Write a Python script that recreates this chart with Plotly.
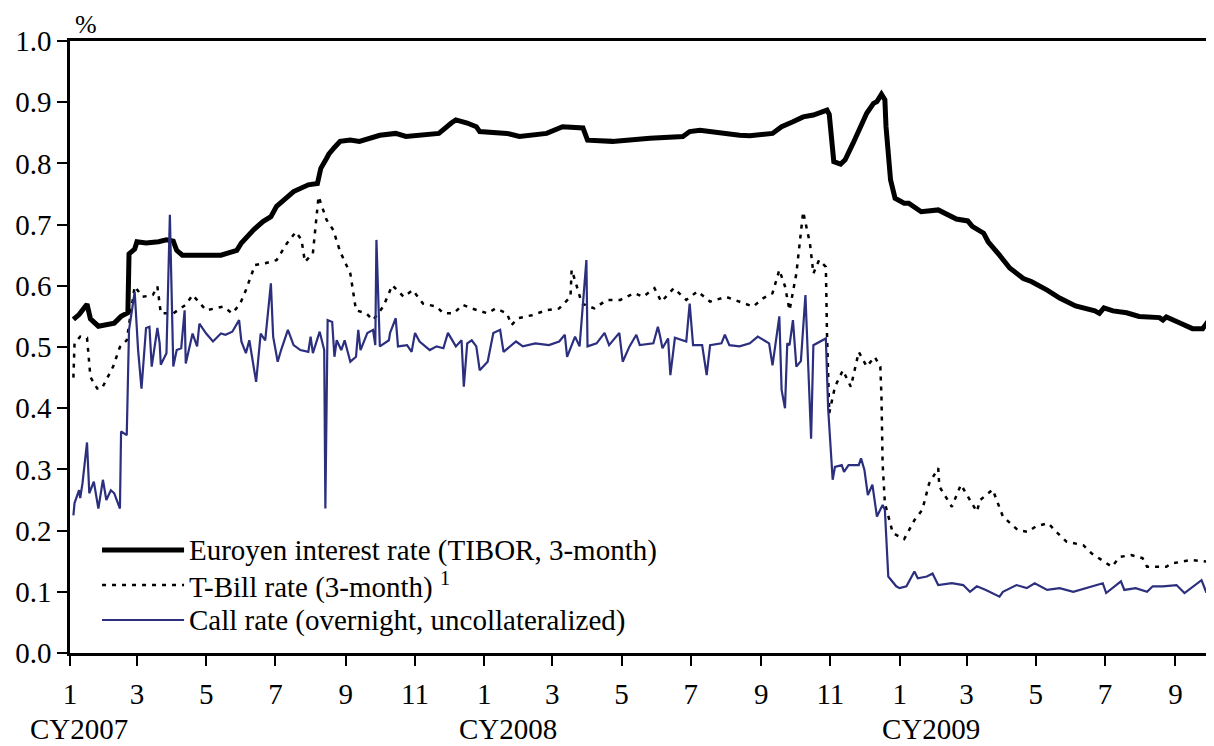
import plotly.graph_objects as go

# ---------------- data ----------------
tibor_dates = [
    "2007-01-04", "2007-01-09", "2007-01-16", "2007-01-19", "2007-01-26", "2007-02-09", "2007-02-15",
    "2007-02-21", "2007-02-22", "2007-02-27", "2007-03-01", "2007-03-09", "2007-03-20", "2007-03-27",
    "2007-04-02", "2007-04-05", "2007-04-10", "2007-05-14", "2007-05-28", "2007-06-01", "2007-06-12",
    "2007-06-20", "2007-06-27", "2007-07-02", "2007-07-17", "2007-07-30", "2007-08-07", "2007-08-10",
    "2007-08-15", "2007-08-17", "2007-08-22", "2007-08-27", "2007-09-05", "2007-09-13", "2007-10-01",
    "2007-10-15", "2007-10-24", "2007-11-22", "2007-12-03", "2007-12-07", "2007-12-17", "2007-12-25",
    "2007-12-28", "2008-01-21", "2008-02-01", "2008-02-12", "2008-02-25", "2008-03-10", "2008-03-24",
    "2008-03-28", "2008-04-01", "2008-04-23", "2008-05-26", "2008-06-24", "2008-06-30", "2008-07-09",
    "2008-08-13", "2008-08-22", "2008-09-11", "2008-09-19", "2008-09-29", "2008-10-08", "2008-10-17",
    "2008-10-29", "2008-10-31", "2008-11-04", "2008-11-10", "2008-11-14", "2008-11-21", "2008-11-25",
    "2008-12-03", "2008-12-09", "2008-12-12", "2008-12-16", "2008-12-19", "2008-12-20", "2008-12-24",
    "2008-12-28", "2009-01-05", "2009-01-09", "2009-01-20", "2009-02-04", "2009-02-11", "2009-02-20",
    "2009-03-02", "2009-03-06", "2009-03-16", "2009-03-20", "2009-03-30", "2009-04-08", "2009-04-20",
    "2009-04-27", "2009-05-11", "2009-05-22", "2009-06-05", "2009-06-22", "2009-06-26", "2009-06-30",
    "2009-07-08", "2009-07-20", "2009-07-31", "2009-08-18", "2009-08-21", "2009-08-24", "2009-09-04",
    "2009-09-16", "2009-09-25", "2009-09-29", "2009-10-06",
]
tibor_values = [
    0.545, 0.553, 0.570, 0.546, 0.534, 0.539, 0.550,
    0.556, 0.652, 0.660, 0.672, 0.670, 0.672, 0.675,
    0.673, 0.658, 0.650, 0.650, 0.658, 0.670, 0.692,
    0.705, 0.713, 0.730, 0.754, 0.765, 0.767, 0.792,
    0.808, 0.815, 0.826, 0.836, 0.838, 0.836, 0.846,
    0.849, 0.844, 0.849, 0.866, 0.871, 0.866, 0.860,
    0.852, 0.849, 0.844, 0.846, 0.849, 0.860, 0.860,
    0.858, 0.838, 0.836, 0.841, 0.844, 0.852, 0.854,
    0.846, 0.845, 0.849, 0.860, 0.868, 0.876, 0.879,
    0.887, 0.880, 0.803, 0.799, 0.806, 0.833, 0.849,
    0.882, 0.898, 0.901, 0.913, 0.904, 0.860, 0.773,
    0.743, 0.735, 0.735, 0.721, 0.724, 0.717, 0.709,
    0.706, 0.697, 0.686, 0.672, 0.650, 0.629, 0.612,
    0.607, 0.593, 0.580, 0.567, 0.559, 0.555, 0.564,
    0.559, 0.556, 0.550, 0.548, 0.544, 0.549, 0.540,
    0.530, 0.530, 0.540, 0.536,
]

tbill_dates = [
    "2007-01-04", "2007-01-05", "2007-01-10", "2007-01-16", "2007-01-19", "2007-01-25", "2007-01-29",
    "2007-02-08", "2007-02-14", "2007-02-20", "2007-02-27", "2007-03-06", "2007-03-15", "2007-03-19",
    "2007-03-22", "2007-04-02", "2007-04-13", "2007-04-19", "2007-05-01", "2007-05-16", "2007-05-24",
    "2007-05-31", "2007-06-05", "2007-06-13", "2007-06-22", "2007-07-02", "2007-07-11", "2007-07-19",
    "2007-07-24", "2007-07-27", "2007-08-03", "2007-08-08", "2007-08-15", "2007-08-21", "2007-08-27",
    "2007-09-05", "2007-09-10", "2007-09-19", "2007-09-25", "2007-10-04", "2007-10-12", "2007-10-22",
    "2007-10-30", "2007-11-08", "2007-11-20", "2007-11-26", "2007-12-05", "2007-12-13", "2007-12-21",
    "2008-01-04", "2008-01-11", "2008-01-21", "2008-01-25", "2008-01-31", "2008-02-12", "2008-02-25",
    "2008-03-07", "2008-03-17", "2008-03-18", "2008-03-21", "2008-03-27", "2008-04-07", "2008-04-18",
    "2008-04-30", "2008-05-12", "2008-05-20", "2008-05-30", "2008-06-05", "2008-06-16", "2008-06-27",
    "2008-07-07", "2008-07-18", "2008-08-01", "2008-08-13", "2008-08-25", "2008-09-03", "2008-09-11",
    "2008-09-17", "2008-09-22", "2008-09-26", "2008-10-02", "2008-10-08", "2008-10-14", "2008-10-17",
    "2008-10-22", "2008-10-28", "2008-10-29", "2008-10-31", "2008-11-05", "2008-11-12", "2008-11-19",
    "2008-11-26", "2008-12-03", "2008-12-10", "2008-12-15", "2008-12-16", "2008-12-17", "2008-12-19",
    "2008-12-26", "2009-01-05", "2009-01-14", "2009-01-21", "2009-01-27", "2009-02-04", "2009-02-05",
    "2009-02-16", "2009-02-24", "2009-03-10", "2009-03-13", "2009-03-24", "2009-04-02", "2009-04-15",
    "2009-04-24", "2009-05-01", "2009-05-12", "2009-05-19", "2009-05-28", "2009-06-12", "2009-06-19",
    "2009-07-07", "2009-07-14", "2009-07-24", "2009-08-03", "2009-08-07", "2009-08-24", "2009-08-28",
    "2009-09-15", "2009-09-30", "2009-10-06",
]
tbill_values = [
    0.450, 0.506, 0.517, 0.515, 0.451, 0.432, 0.432,
    0.468, 0.500, 0.511, 0.599, 0.582, 0.585, 0.599,
    0.555, 0.555, 0.569, 0.585, 0.560, 0.566, 0.555,
    0.571, 0.593, 0.634, 0.637, 0.642, 0.669, 0.688,
    0.675, 0.639, 0.653, 0.746, 0.708, 0.691, 0.656,
    0.620, 0.560, 0.555, 0.544, 0.566, 0.601, 0.582,
    0.593, 0.571, 0.566, 0.555, 0.555, 0.569, 0.563,
    0.555, 0.563, 0.555, 0.536, 0.547, 0.552, 0.560,
    0.563, 0.582, 0.626, 0.609, 0.571, 0.563, 0.577,
    0.577, 0.588, 0.582, 0.596, 0.574, 0.596, 0.577,
    0.591, 0.574, 0.582, 0.574, 0.566, 0.580, 0.588,
    0.626, 0.599, 0.560, 0.620, 0.721, 0.669, 0.620,
    0.642, 0.631, 0.522, 0.392, 0.435, 0.462, 0.435,
    0.492, 0.468, 0.484, 0.468, 0.419, 0.310, 0.245,
    0.196, 0.186, 0.217, 0.234, 0.277, 0.302, 0.272,
    0.239, 0.275, 0.231, 0.250, 0.267, 0.223, 0.201,
    0.198, 0.207, 0.212, 0.198, 0.182, 0.176, 0.163,
    0.141, 0.157, 0.160, 0.155, 0.141, 0.141, 0.146,
    0.152, 0.149, 0.145,
]

call_dates = [
    "2007-01-04", "2007-01-05", "2007-01-09", "2007-01-10", "2007-01-12", "2007-01-16", "2007-01-18",
    "2007-01-22", "2007-01-26", "2007-01-30", "2007-02-02", "2007-02-06", "2007-02-09", "2007-02-14",
    "2007-02-15", "2007-02-20", "2007-02-22", "2007-02-27", "2007-03-02", "2007-03-05", "2007-03-09",
    "2007-03-12", "2007-03-14", "2007-03-19", "2007-03-21", "2007-03-22", "2007-03-27", "2007-03-30",
    "2007-04-02", "2007-04-05", "2007-04-09", "2007-04-12", "2007-04-13", "2007-04-17", "2007-04-19",
    "2007-04-23", "2007-04-25", "2007-05-01", "2007-05-07", "2007-05-14", "2007-05-18", "2007-05-24",
    "2007-05-30", "2007-06-01", "2007-06-05", "2007-06-08", "2007-06-14", "2007-06-18", "2007-06-22",
    "2007-06-27", "2007-06-29", "2007-07-03", "2007-07-06", "2007-07-12", "2007-07-17", "2007-07-23",
    "2007-07-30", "2007-08-01", "2007-08-03", "2007-08-09", "2007-08-13", "2007-08-14", "2007-08-16",
    "2007-08-20", "2007-08-22", "2007-08-24", "2007-08-28", "2007-08-31", "2007-09-05", "2007-09-10",
    "2007-09-12", "2007-09-14", "2007-09-20", "2007-09-25", "2007-09-27", "2007-09-28", "2007-10-01",
    "2007-10-09", "2007-10-10", "2007-10-15", "2007-10-17", "2007-10-25", "2007-10-29", "2007-11-01",
    "2007-11-05", "2007-11-14", "2007-11-20", "2007-11-26", "2007-11-30", "2007-12-07", "2007-12-12",
    "2007-12-14", "2007-12-17", "2007-12-21", "2007-12-25", "2007-12-28", "2008-01-04", "2008-01-09",
    "2008-01-15", "2008-01-18", "2008-01-29", "2008-02-04", "2008-02-15", "2008-02-27", "2008-03-07",
    "2008-03-12", "2008-03-14", "2008-03-21", "2008-03-25", "2008-03-31", "2008-04-01", "2008-04-09",
    "2008-04-16", "2008-04-20", "2008-04-29", "2008-05-02", "2008-05-08", "2008-05-14", "2008-05-17",
    "2008-05-29", "2008-06-02", "2008-06-04", "2008-06-06", "2008-06-11", "2008-06-13", "2008-06-17",
    "2008-06-27", "2008-06-30", "2008-07-03", "2008-07-11", "2008-07-15", "2008-07-18", "2008-07-28",
    "2008-07-31", "2008-08-04", "2008-08-13", "2008-08-22", "2008-08-29", "2008-09-08", "2008-09-11",
    "2008-09-17", "2008-09-19", "2008-09-22", "2008-09-24", "2008-09-26", "2008-09-29", "2008-10-02",
    "2008-10-06", "2008-10-10", "2008-10-15", "2008-10-17", "2008-10-28", "2008-10-30", "2008-11-03",
    "2008-11-05", "2008-11-11", "2008-11-13", "2008-11-17", "2008-11-26", "2008-11-28", "2008-12-01",
    "2008-12-04", "2008-12-08", "2008-12-12", "2008-12-17", "2008-12-19", "2008-12-22", "2008-12-29",
    "2009-01-01", "2009-01-07", "2009-01-14", "2009-01-17", "2009-01-25", "2009-01-30", "2009-02-04",
    "2009-02-16", "2009-02-26", "2009-03-04", "2009-03-10", "2009-03-18", "2009-03-30", "2009-04-02",
    "2009-04-14", "2009-04-23", "2009-04-30", "2009-05-11", "2009-05-22", "2009-06-03", "2009-06-14",
    "2009-06-20", "2009-06-29", "2009-07-02", "2009-07-15", "2009-07-18", "2009-07-28", "2009-08-07",
    "2009-08-12", "2009-08-21", "2009-09-02", "2009-09-09", "2009-09-24", "2009-09-28", "2009-10-06",
]
call_values = [
    0.225, 0.245, 0.266, 0.253, 0.277, 0.344, 0.261,
    0.280, 0.236, 0.283, 0.250, 0.266, 0.261, 0.236,
    0.362, 0.356, 0.528, 0.590, 0.495, 0.432, 0.531,
    0.533, 0.468, 0.531, 0.506, 0.471, 0.490, 0.716,
    0.468, 0.495, 0.498, 0.560, 0.473, 0.509, 0.522,
    0.501, 0.538, 0.522, 0.509, 0.522, 0.520, 0.525,
    0.544, 0.509, 0.490, 0.511, 0.443, 0.522, 0.511,
    0.604, 0.517, 0.476, 0.495, 0.528, 0.503, 0.495,
    0.492, 0.517, 0.490, 0.525, 0.495, 0.236, 0.544,
    0.541, 0.484, 0.511, 0.495, 0.511, 0.476, 0.484,
    0.528, 0.495, 0.523, 0.528, 0.503, 0.675, 0.501,
    0.511, 0.523, 0.547, 0.501, 0.503, 0.492, 0.523,
    0.509, 0.495, 0.501, 0.498, 0.523, 0.501, 0.511,
    0.435, 0.506, 0.511, 0.501, 0.462, 0.476, 0.523,
    0.528, 0.492, 0.509, 0.501, 0.506, 0.503, 0.509,
    0.520, 0.484, 0.517, 0.501, 0.642, 0.501, 0.506,
    0.523, 0.503, 0.523, 0.476, 0.501, 0.520, 0.503,
    0.506, 0.533, 0.517, 0.498, 0.514, 0.454, 0.515,
    0.509, 0.571, 0.503, 0.503, 0.454, 0.503, 0.506,
    0.520, 0.503, 0.501, 0.506, 0.517, 0.506, 0.470,
    0.550, 0.430, 0.400, 0.506, 0.503, 0.544, 0.468,
    0.477, 0.585, 0.350, 0.503, 0.514, 0.400, 0.283,
    0.304, 0.307, 0.296, 0.307, 0.307, 0.318, 0.299,
    0.258, 0.275, 0.223, 0.242, 0.234, 0.125, 0.109,
    0.106, 0.109, 0.133, 0.122, 0.125, 0.130, 0.111,
    0.114, 0.111, 0.100, 0.109, 0.103, 0.092, 0.100,
    0.111, 0.106, 0.114, 0.103, 0.106, 0.100, 0.106,
    0.109, 0.114, 0.098, 0.117, 0.103, 0.106, 0.100,
    0.109, 0.109, 0.111, 0.098, 0.119, 0.100, 0.100,
]

tick_dates = [
    "2007-01-01", "2007-03-01", "2007-05-01", "2007-07-01", "2007-09-01", "2007-11-01",
    "2008-01-01", "2008-03-01", "2008-05-01", "2008-07-01", "2008-09-01", "2008-11-01",
    "2009-01-01", "2009-03-01", "2009-05-01", "2009-07-01", "2009-09-01",
]
tick_labels = ["1", "3", "5", "7", "9", "11", "1", "3", "5", "7", "9", "11", "1", "3", "5", "7", "9"]
year_labels = ["CY2007", "CY2008", "CY2009"]
year_label_x = [0.008, 0.383, 0.753]

series_names = [
    "Euroyen interest rate (TIBOR, 3-month)",
    "T-Bill rate (3-month) <sup>1</sup>",
    "Call rate (overnight, uncollateralized)",
]

FONT = "Liberation Serif, Times New Roman, serif"
NAVY = "#2b2f7e"
FS = 29

styles = [
    dict(color="black", width=5),
    dict(color="black", width=2.5, dash="4px,6px"),
    dict(color=NAVY, width=2.2),
]

fig = go.Figure()
fig.add_trace(go.Scatter(x=tibor_dates, y=tibor_values, mode="lines", name=series_names[0],
                         line=styles[0], showlegend=False))
fig.add_trace(go.Scatter(x=tbill_dates, y=tbill_values, mode="lines", name=series_names[1],
                         line=styles[1], showlegend=False))
fig.add_trace(go.Scatter(x=call_dates, y=call_values, mode="lines", name=series_names[2],
                         line=styles[2], showlegend=False))

# the page has an 8px body margin, so the figure is sized/placed to compensate
fig.update_layout(
    width=1206, height=738,
    margin=dict(l=62, r=0, t=33, b=93),
    paper_bgcolor="white", plot_bgcolor="white",
    font=dict(family=FONT, size=FS, color="black"),
    showlegend=False,
)
fig.update_xaxes(
    type="date", range=["2007-01-01", "2009-10-05"],
    tickmode="array", tickvals=tick_dates, ticktext=tick_labels,
    ticks="outside", ticklen=10, tickwidth=2, tickcolor="black",
    showline=True, linecolor="black", linewidth=3, mirror=True,
    showgrid=False, zeroline=False,
    ticklabelstandoff=3,
    tickfont=dict(family=FONT, size=FS, color="black"),
)
fig.update_yaxes(
    range=[0, 1.0], dtick=0.1, tick0=0, tickformat=".1f",
    ticks="outside", ticklen=10, tickwidth=2, tickcolor="black",
    showline=True, linecolor="black", linewidth=2.5,
    showgrid=False, zeroline=False,
    tickfont=dict(family=FONT, size=FS, color="black"),
)

# legend drawn in the plot area (lower left)
legend_y = [0.1683, 0.1111, 0.0539]
for name, st, ly in zip(series_names, styles, legend_y):
    fig.add_shape(type="line", xref="paper", yref="paper", x0=0.028, x1=0.0997, y0=ly, y1=ly,
                  line=st)
    fig.add_annotation(text=name, xref="paper", yref="paper", x=0.1025, y=ly,
                       xanchor="left", yanchor="middle", showarrow=False,
                       font=dict(family=FONT, size=FS, color="black"))

for lbl, xp in zip(year_labels, year_label_x):
    fig.add_annotation(text=lbl, xref="paper", yref="paper", x=xp, y=-0.1515,
                       xanchor="center", yanchor="bottom", showarrow=False, borderpad=0,
                       font=dict(family=FONT, size=FS, color="black"))
fig.add_annotation(text="%", xref="paper", yref="paper", x=0.014, y=1.0,
                   xanchor="center", yanchor="bottom", showarrow=False,
                   font=dict(family=FONT, size=26, color="black"))

fig.write_html("out.html")
